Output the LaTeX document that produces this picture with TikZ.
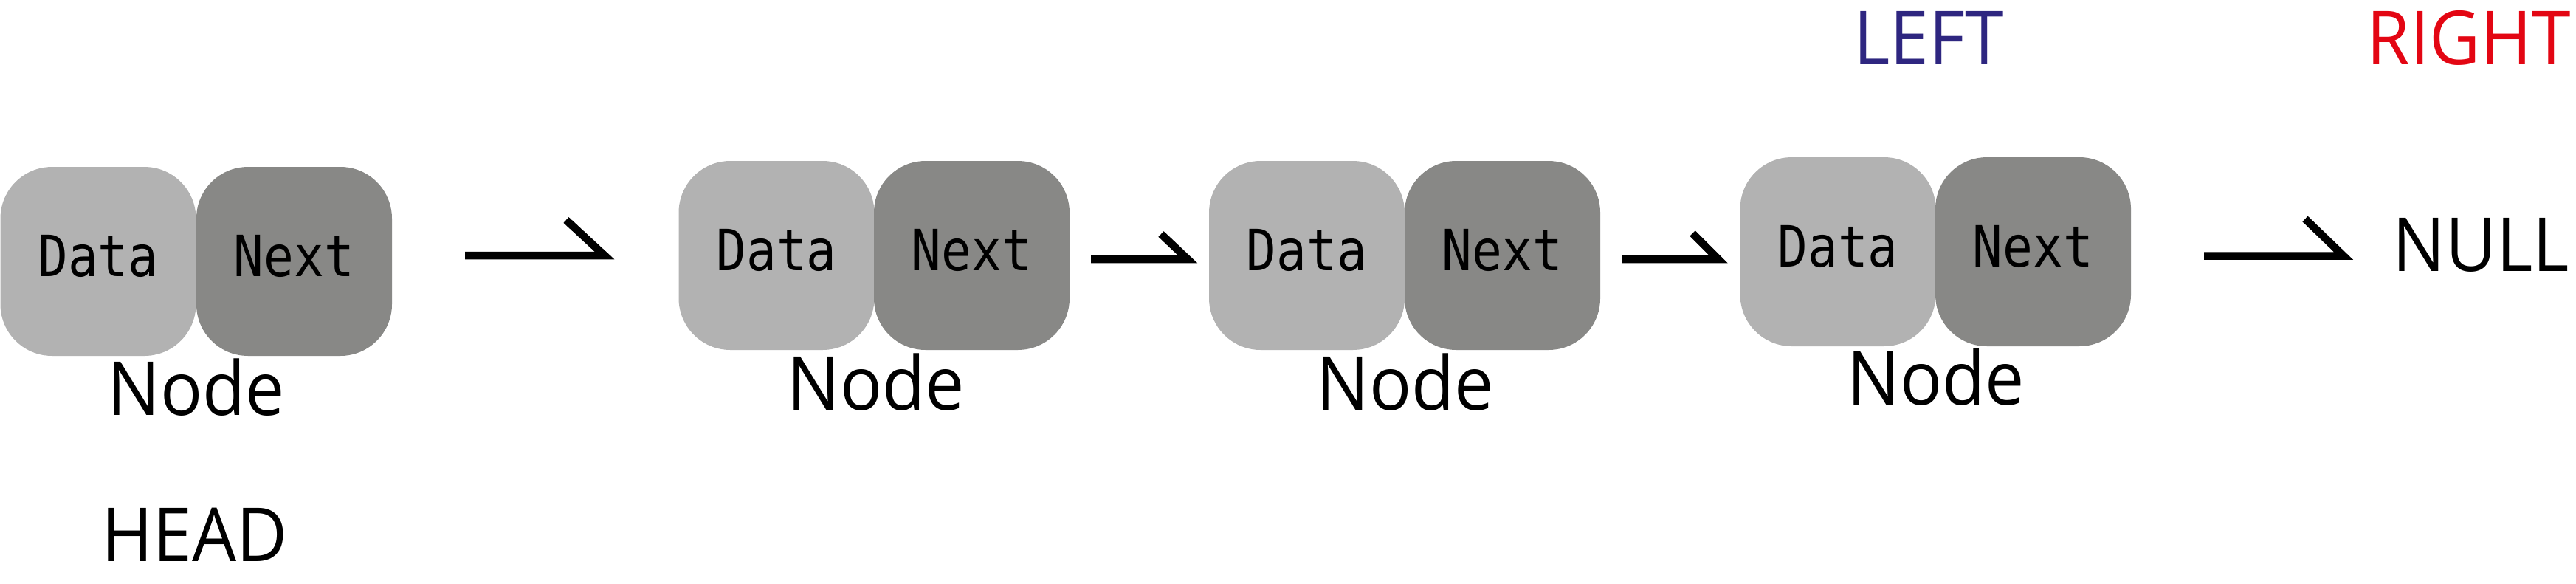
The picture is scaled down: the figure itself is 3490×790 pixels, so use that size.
\documentclass[tikz,border=0pt]{standalone}
\usepackage{fontspec}
\setmainfont{Open Sans}
\newfontfamily\boxfont[FakeStretch=0.88]{DejaVu Sans Mono}
\newfontfamily\labfont[FakeStretch=0.94]{Open Sans}
\definecolor{datagray}{RGB}{178,178,178}
\definecolor{nextgray}{RGB}{136,136,134}
\definecolor{leftblue}{RGB}{46,38,128}
\definecolor{rightred}{RGB}{227,6,19}
\begin{document}
\begin{tikzpicture}[x=1pt,y=-1pt,
  databox/.style={rectangle, rounded corners=70pt, fill=datagray, minimum width=265pt,
    minimum height=256pt, inner sep=0pt, text depth=16pt,
    font=\boxfont\fontsize{77}{90}\selectfont},
  nextbox/.style={databox, fill=nextgray},
  lbl/.style={anchor=base, inner sep=0pt, font=\labfont\fontsize{101}{120}\selectfont},
  harp/.style={line width=10.5pt, line join=miter, line cap=butt}]
\useasboundingbox (0,0) rectangle (3490,790);

% linked-list nodes
\node[databox] (d1) at (133,354) {Data};
\node[nextbox] (n1) at (398.5,354) {Next};
\node[databox] (d2) at (1052,346) {Data};
\node[nextbox] (n2) at (1316.5,346) {Next};
\node[databox] (d3) at (1770.5,346) {Data};
\node[nextbox] (n3) at (2035.5,346) {Next};
\node[databox] (d4) at (2490,341) {Data};
\node[nextbox] (n4) at (2754.5,341) {Next};

% labels
\node[lbl] (l1) at (266,562) {Node};
\node[lbl] (l2) at (1187,555) {Node};
\node[lbl] (l3) at (1904,555) {Node};
\node[lbl] (l4) at (2623,548) {Node};
\node[lbl] (head) at (264,760) {HEAD};
\node[lbl, text=leftblue] (left) at (2613,87) {LEFT};
\node[lbl, text=rightred] (right) at (3345,87) {RIGHT};
\node[lbl] (null) at (3361,367) {NULL};

% arrows
\coordinate (a1s) at (630,346);   \coordinate (a1e) at (819,346);
\coordinate (a2s) at (1478,351);  \coordinate (a2e) at (1609,351);
\coordinate (a3s) at (2197,351);  \coordinate (a3e) at (2328,351);
\coordinate (a4s) at (2986,346.5);\coordinate (a4e) at (3175,346.5);
\draw[harp] (a1s) -- (a1e) -- ++(-52,-48);
\draw[harp] (a2s) -- (a2e) -- ++(-36,-34);
\draw[harp] (a3s) -- (a3e) -- ++(-35,-35);
\draw[harp] (a4s) -- (a4e) -- ++(-52,-50);
\end{tikzpicture}
\end{document}
